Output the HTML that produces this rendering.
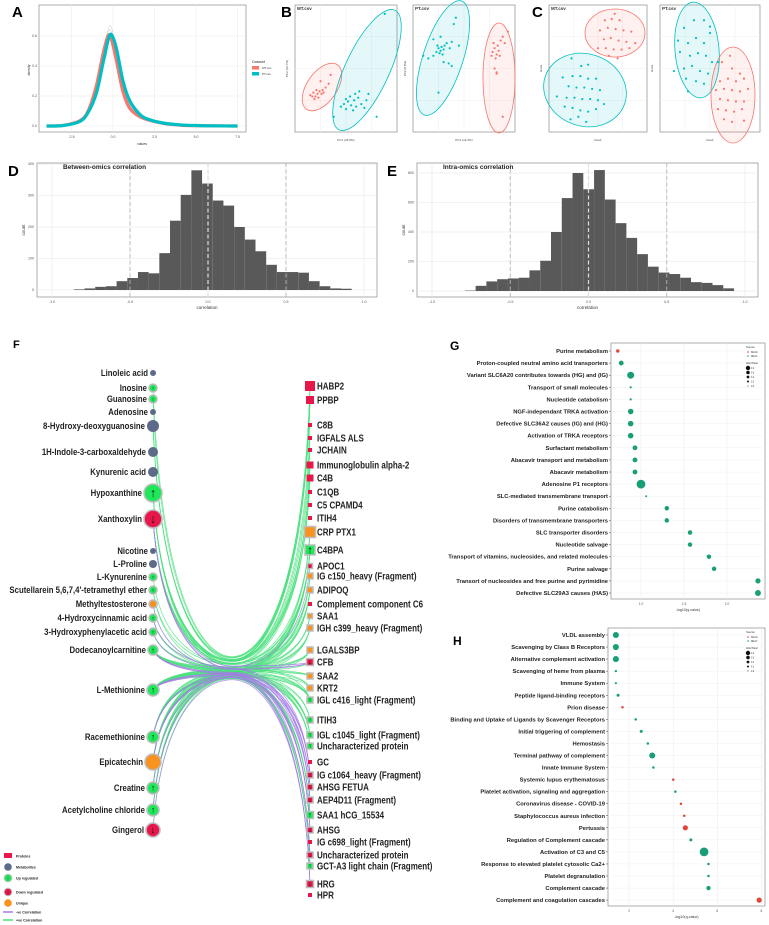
<!DOCTYPE html>
<html><head><meta charset="utf-8">
<style>
body{margin:0;background:#fff}
svg{display:block;font-family:"Liberation Sans",sans-serif}
.nar{font-family:"Liberation Sans Narrow","Liberation Sans",sans-serif;font-weight:bold}
.b{font-weight:bold}
</style></head><body>
<svg id="fig" width="769" height="925" viewBox="0 0 769 925" xmlns="http://www.w3.org/2000/svg">
<g id="pA"></g>
<g id="pB"></g>
<g id="pC"></g>
<g id="pD"></g>
<g id="pE"></g>
<g id="pF"></g>
<g id="pG"></g>
<g id="pH"></g>
</svg>
<script>
const NS='http://www.w3.org/2000/svg';
function mk(p,tag,a,txt){const e=document.createElementNS(NS,tag);for(const k in a)e.setAttribute(k,a[k]);if(txt!==undefined)e.textContent=txt;p.appendChild(e);return e;}
function $(id){return document.getElementById(id);}
const RED='#f8766d',TEAL='#00bfc4';

/* ---------- Panel A data ---------- */
const densX=[-4,-3,-2,-1.5,-1,-0.6,-0.3,-0.1,0.2,0.6,1,1.5,2,3,4,5,6,7.5];
const densMT=[0,0.004,0.035,0.1,0.27,0.48,0.6,0.58,0.44,0.23,0.12,0.07,0.045,0.018,0.006,0.002,0.001,0];
const densPT=[0,0.003,0.03,0.09,0.22,0.42,0.57,0.61,0.52,0.3,0.17,0.09,0.05,0.02,0.008,0.003,0.001,0];
const densS1=[0,0.003,0.03,0.1,0.26,0.5,0.64,0.66,0.5,0.27,0.14,0.08,0.05,0.03,0.01,0.003,0.001,0];
const densS2=[0,0.005,0.04,0.11,0.24,0.4,0.5,0.54,0.47,0.31,0.19,0.11,0.06,0.025,0.01,0.004,0.001,0];
const densS3=[0,0.002,0.025,0.08,0.23,0.46,0.62,0.63,0.48,0.26,0.13,0.08,0.05,0.02,0.012,0.003,0.001,0];
const aXTicks=[-2.5,0,2.5,5,7.5];
const aYTicks=[0,0.2,0.4,0.6];

/* ---------- Panel B/C data (score units 0-100) ---------- */
const bMTred=[[15,29],[18,31],[20,28],[22,30],[24,32],[26,30],[28,31],[23,27],[19,26],[27,33],[30,35],[25,40],[21,33],[33,38],[17,28],[35,45]];
const bMTteal=[[45,20],[48,22],[50,18],[52,24],[55,21],[58,25],[60,20],[62,27],[57,17],[65,22],[68,19],[70,25],[54,28],[59,30],[63,32],[50,26],[72,30],[38,12],[80,12],[88,93]];
const bPTteal=[[20,60],[23,63],[25,66],[27,64],[28,67],[30,65],[26,62],[29,61],[31,68],[24,68],[33,70],[36,66],[38,71],[15,58],[10,60],[30,55],[35,54],[38,52],[27,75],[40,85],[42,90],[20,73],[45,68],[25,31]];
const bPTred=[[78,63],[80,66],[82,61],[84,64],[83,68],[79,70],[86,72],[88,75],[77,60],[81,58],[85,60],[90,70],[80,50],[82,47],[93,79],[88,12],[82,46]];
const cMTred=[[57,88],[64,89],[72,88],[52,80],[60,82],[68,81],[76,80],[84,79],[56,73],[63,74],[71,72],[79,71],[50,66],[58,66],[66,65],[74,65],[82,66],[61,60],[70,58],[88,70],[67,93]];
const cMTteal=[[23,58],[33,52],[40,53],[14,43],[24,44],[32,44],[40,42],[48,42],[20,36],[28,35],[36,35],[44,34],[52,33],[8,28],[18,27],[26,27],[34,26],[42,26],[50,25],[16,20],[24,19],[32,17],[40,16],[48,18],[56,22],[30,12],[22,10],[38,8]];
const cPTteal=[[18,72],[24,82],[34,88],[44,88],[50,83],[20,63],[28,70],[36,74],[44,70],[30,60],[38,62],[46,60],[52,55],[24,50],[32,52],[40,48],[48,46],[58,55],[14,48],[26,42],[36,40],[44,38],[28,32],[50,78]];
const cPTred=[[62,55],[72,50],[80,46],[60,40],[68,42],[76,40],[84,42],[56,33],[64,34],[72,33],[80,32],[88,34],[60,26],[68,25],[76,24],[84,24],[58,18],[66,17],[74,16],[82,18],[64,10],[72,8],[84,9],[70,60]];

/* ---------- Panel D/E data ---------- */
const dStart=-0.86, dWidth=0.0685;
const dCounts=[2,5,10,12,28,38,57,53,117,220,302,380,338,284,268,200,160,123,80,57,57,55,28,12,5,4];
const eStart=-0.79, eWidth=0.0688;
const eCounts=[3,35,65,80,85,90,140,205,400,630,800,690,820,620,460,360,250,165,125,115,90,60,55,40,18];
const histXTicks=[-1,-0.5,0,0.5,1];
const dYTicks=[0,100,200,300,400];
const eYTicks=[0,200,400,600,800];

/* ---------- Panel G data ---------- */
const gTerms=["Purine metabolism","Proton-coupled neutral amino acid transporters","Variant SLC6A20 contributes towards (HG) and (IG)","Transport of small molecules","Nucleotide catabolism","NGF-independant TRKA activation","Defective SLC36A2 causes (IG) and (HG)","Activation of TRKA receptors","Surfactant metabolism","Abacavir transport and metabolism","Abacavir metabolism","Adenosine P1 receptors","SLC-mediated transmembrane transport","Purine catabolism","Disorders of transmembrane transporters","SLC transporter disorders","Nucleotide salvage","Transport of vitamins, nucleosides, and related molecules","Purine salvage","Transort of nucleosides and free purine and pyrimidine","Defective SLC29A3 causes (HAS)"];
const gVals=[0.73,0.77,0.88,0.88,0.88,0.88,0.88,0.88,0.93,0.93,0.93,1.0,1.06,1.3,1.3,1.57,1.57,1.79,1.85,2.36,2.36];
const gRatio=[0.25,0.45,0.75,0.08,0.08,0.55,0.55,0.55,0.45,0.45,0.45,1.0,0.05,0.4,0.4,0.4,0.4,0.4,0.4,0.5,0.6];
const gSource=["KEGG","REAC","REAC","REAC","REAC","REAC","REAC","REAC","REAC","REAC","REAC","REAC","REAC","REAC","REAC","REAC","REAC","REAC","REAC","REAC","REAC"];
const gXTicks=[1.0,1.5,2.0];

/* ---------- Panel H data ---------- */
const hTerms=["VLDL assembly","Scavenging by Class B Receptors","Alternative complement activation","Scavenging of heme from plasma","Immune System","Peptide ligand-binding receptors","Prion disease","Binding and Uptake of Ligands by Scavenger Receptors","Initial triggering of complement","Hemostasis","Terminal pathway of complement","Innate Immune System","Systemic lupus erythematosus","Platelet activation, signaling and aggregation","Coronavirus disease - COVID-19","Staphylococcus aureus infection","Pertussis","Regulation of Complement cascade","Activation of C3 and C5","Response to elevated platelet cytosolic Ca2+","Platelet degranulation","Complement cascade","Complement and coagulation cascades"];
const hVals=[1.4,1.4,1.4,1.4,1.4,1.5,1.7,2.3,2.55,2.85,3.05,3.1,4.0,4.1,4.35,4.5,4.55,4.8,5.4,5.6,5.6,5.6,7.9];
const hRatio=[0.25,0.25,0.25,0.04,0.03,0.08,0.05,0.05,0.08,0.05,0.25,0.05,0.05,0.05,0.05,0.05,0.2,0.08,0.4,0.05,0.05,0.15,0.2];
const hSource=["REAC","REAC","REAC","REAC","REAC","REAC","KEGG","REAC","REAC","REAC","REAC","REAC","KEGG","REAC","KEGG","KEGG","KEGG","REAC","REAC","REAC","REAC","REAC","KEGG"];
const hXTicks=[2,4,6,8];

/* ---------- Panel F network ---------- */
const leftNodes=[["Linoleic acid",373,"m",3],["Inosine",388,"u",4],["Guanosine",399,"u",4],["Adenosine",412,"m",3],["8-Hydroxy-deoxyguanosine",426,"m",6],["1H-Indole-3-carboxaldehyde",452,"m",5],["Kynurenic acid",472,"m",5],["Hypoxanthine",493,"u",9],["Xanthoxylin",519,"d",9],["Nicotine",551,"m",3],["L-Proline",564,"m",4],["L-Kynurenine",577,"u",4],["Scutellarein 5,6,7,4'-tetramethyl ether",590,"u",4],["Methyltestosterone",604,"q",4],["4-Hydroxycinnamic acid",618,"u",4],["3-Hydroxyphenylacetic acid",632,"u",4],["Dodecanoylcarnitine",650,"u",5],["L-Methionine",690,"u",6],["Racemethionine",737,"u",6],["Epicatechin",762,"q",8],["Creatine",788,"u",6],["Acetylcholine chloride",810,"u",6],["Gingerol",830,"d",7]];
const rightNodes=[["HABP2",386,"p",10],["PPBP",400,"p",8],["C8B",425,"p",4],["IGFALS ALS",438,"p",4],["JCHAIN",450,"p",4],["Immunoglobulin alpha-2",465,"p",7],["C4B",478,"p",7],["C1QB",492,"p",4],["C5 CPAMD4",505,"p",4],["ITIH4",518,"p",4],["CRP PTX1",532,"q",11],["C4BPA",550,"u",10],["APOC1",566,"d",5],["IG c150_heavy (Fragment)",576,"q",6],["ADIPOQ",590,"q",6],["Complement component C6",604,"p",4],["SAA1",616,"q",5],["IGH c399_heavy (Fragment)",628,"q",6],["LGALS3BP",650,"q",6],["CFB",662,"d",7],["SAA2",676,"q",6],["KRT2",688,"q",6],["IGL c416_light (Fragment)",700,"u",6],["ITIH3",720,"u",6],["IGL c1045_light (Fragment)",735,"u",6],["Uncharacterized protein",746,"u",6],["GC",762,"p",4],["IG c1064_heavy (Fragment)",775,"d",6],["AHSG FETUA",787,"d",6],["AEP4D11 (Fragment)",800,"d",6],["SAA1 hCG_15534",815,"u",7],["AHSG",830,"d",6],["IG c698_light (Fragment)",842,"p",4],["Uncharacterized protein",855,"d",6],["GCT-A3 light chain (Fragment)",866,"u",6],["HRG",884,"d",7],["HPR",895,"p",4]];
const posEdges=[[4,0],[4,1],[4,5],[7,0],[7,1],[7,5],[7,6],[7,11],[7,13],[7,22],[8,0],[8,1],[8,10],[8,11],[8,14],[1,0],[2,1],[11,5],[12,6],[14,11],[15,13],[16,10],[16,11],[16,14],[16,16],[16,17],[16,18],[16,20],[16,21],[16,22],[17,11],[17,13],[17,14],[17,16],[17,17],[17,18],[17,19],[17,20],[17,22],[17,23],[17,24],[18,11],[18,14],[18,17],[18,22],[18,24],[18,25],[18,30],[19,10],[19,11],[19,13],[19,18],[19,21],[19,23],[19,25],[19,30],[19,34],[20,11],[20,14],[20,22],[20,24],[20,30],[20,34],[21,11],[21,17],[21,22],[21,25],[21,30],[15,16],[14,18],[13,20],[12,21],[8,2],[7,3],[7,4],[4,6],[16,24],[17,25],[17,30],[17,34],[18,34],[21,34],[22,30]];
const negEdges=[[8,19],[8,27],[8,29],[13,19],[16,27],[16,28],[16,31],[16,33],[17,27],[17,29],[17,31],[17,35],[19,27],[19,28],[19,33],[19,35],[20,31],[21,29],[22,35],[15,19],[14,12],[18,31],[18,28]];

/* ================= RENDER ================= */
function axisBox(p,x,y,w,h){const r=mk(p,'rect',{x:x,y:y,width:w,height:h,fill:'#fff',stroke:'#999','stroke-width':0.8});return r;}
function smooth(pts){let d='M'+pts[0][0]+' '+pts[0][1];for(let i=0;i<pts.length-1;i++){const p0=pts[Math.max(0,i-1)],p1=pts[i],p2=pts[i+1],p3=pts[Math.min(pts.length-1,i+2)];const c1=[p1[0]+(p2[0]-p0[0])/6,p1[1]+(p2[1]-p0[1])/6],c2=[p2[0]-(p3[0]-p1[0])/6,p2[1]-(p3[1]-p1[1])/6];d+=' C'+c1[0].toFixed(1)+' '+c1[1].toFixed(1)+' '+c2[0].toFixed(1)+' '+c2[1].toFixed(1)+' '+p2[0].toFixed(1)+' '+p2[1].toFixed(1);}return d;}

/* Panel A */
(function(){const p=$('pA');
let t=mk(p,'text',{x:12,y:17,'font-size':15,'font-weight':'bold'},'A');

const ax=v=>113+v*16.6, ay=d=>126-d*150;
const b=axisBox(p,39,5,207,127);
aXTicks.forEach(v=>{mk(p,'line',{x1:ax(v),x2:ax(v),y1:5,y2:132,stroke:'#ebebeb','stroke-width':0.6});let l=mk(p,'text',{x:ax(v),y:138,'font-size':3.5,'text-anchor':'middle',fill:'#555'},v.toFixed(1));});
aYTicks.forEach(v=>{mk(p,'line',{x1:39,x2:246,y1:ay(v),y2:ay(v),stroke:'#ebebeb','stroke-width':0.6});let l=mk(p,'text',{x:37,y:ay(v)+1,'font-size':3.5,'text-anchor':'end',fill:'#555'},v.toFixed(1));});
[densS1,densS2,densS3].forEach(s=>{const e=mk(p,'path',{d:smooth(densX.map((x,i)=>[ax(x),ay(s[i])])),fill:'none',stroke:'#aaa','stroke-width':0.5,opacity:0.6});});
let m=mk(p,'path',{d:smooth(densX.map((x,i)=>[ax(x),ay(densMT[i])])),fill:'none',stroke:RED,'stroke-width':3.2,'stroke-linejoin':'round'});
let q=mk(p,'path',{d:smooth(densX.map((x,i)=>[ax(x),ay(densPT[i])])),fill:'none',stroke:TEAL,'stroke-width':3.2,'stroke-linejoin':'round'});
let xt=mk(p,'text',{x:142,y:145,'font-size':3.5,'text-anchor':'middle',fill:'#333'},'values');
let yt=mk(p,'text',{x:30,y:70,'font-size':3.5,'text-anchor':'middle',fill:'#333',transform:'rotate(-90 30 70)'},'density');
let lg=mk(p,'g',{});
mk(lg,'text',{x:252,y:63,'font-size':3.8,fill:'#333'},'Dataset');
mk(lg,'rect',{x:252,y:66,width:7,height:3.5,fill:RED});mk(lg,'text',{x:262,y:69,'font-size':3,fill:'#333'},'MT.csv');
mk(lg,'rect',{x:252,y:72,width:7,height:3.5,fill:TEAL});mk(lg,'text',{x:262,y:75,'font-size':3,fill:'#333'},'PT.csv');
})();

/* Panels B, C */
function scatter(p,box,title,groups,ells,xlab,ylab){
 axisBox(p,box.x,box.y,box.w,box.h);
 for(let i=1;i<4;i++){mk(p,'line',{x1:box.x+box.w*i/4,x2:box.x+box.w*i/4,y1:box.y,y2:box.y+box.h,stroke:'#eee','stroke-width':0.5});mk(p,'line',{x1:box.x,x2:box.x+box.w,y1:box.y+box.h*i/4,y2:box.y+box.h*i/4,stroke:'#eee','stroke-width':0.5});}
 ells.forEach(e=>{const el=mk(p,'ellipse',{cx:e[0],cy:e[1],rx:e[2],ry:e[3],transform:'rotate('+e[4]+' '+e[0]+' '+e[1]+')',fill:e[5],'fill-opacity':0.1,stroke:e[5],'stroke-width':0.8});});
 groups.forEach(g=>{g[0].forEach(v=>{const c=mk(p,'circle',{cx:box.x+v[0]/100*box.w,cy:box.y+box.h-v[1]/100*box.h,r:1.1,fill:g[1]});});});
 let t=mk(p,'text',{x:box.x+2,y:box.y+5,'font-size':4.5,'font-weight':'bold',fill:'#333'},title);
 mk(p,'text',{x:box.x+box.w/2,y:box.y+box.h+9,'font-size':3,'text-anchor':'middle',fill:'#444'},xlab);
 const yx=box.x-7,yy=box.y+box.h/2;mk(p,'text',{x:yx,y:yy,'font-size':3,'text-anchor':'middle',fill:'#444',transform:'rotate(-90 '+yx+' '+yy+')'},ylab);
}
(function(){const p=$('pB');let t=mk(p,'text',{x:281,y:17,'font-size':15,'font-weight':'bold'},'B');
scatter(p,{x:295,y:5,w:102,h:127},'MT.csv',[[bMTred,RED],[bMTteal,TEAL]],[[322,87,15,27,35,RED],[367,70,22,66,25,TEAL]],'PC1 (26.5%)','PC2 (16.7%)');
scatter(p,{x:413,y:5,w:102,h:127},'PT.csv',[[bPTteal,TEAL],[bPTred,RED]],[[443,58,20,60,18,TEAL],[499,78,16,55,0,RED]],'PC1 (12.2%)','PC2 (8.8%)');})();
(function(){const p=$('pC');let t=mk(p,'text',{x:532,y:17,'font-size':15,'font-weight':'bold'},'C');
scatter(p,{x:549,y:5,w:98,h:127},'MT.csv',[[cMTred,RED],[cMTteal,TEAL]],[[615,33,30,24,0,RED],[585,90,42,36,20,TEAL]],'tsne1','tsne2');
scatter(p,{x:660,y:5,w:100,h:127},'PT.csv',[[cPTteal,TEAL],[cPTred,RED]],[[697,50,22,48,-5,TEAL],[733,95,22,48,0,RED]],'tsne1','tsne2');})();

/* Panels D, E */
function hist(p,box,x0,x1,y0,ymax,yTop,start,width,counts,yt,title,letter,lx){
 let L=mk(p,'text',{x:lx,y:box.y+13,'font-size':15,'font-weight':'bold'},letter);
 const X=v=>x0+(v+1)*(x1-x0)/2, Y=c=>y0-c*(y0-yTop)/ymax;
 axisBox(p,box.x,box.y,box.w,box.h);
 histXTicks.forEach(v=>{mk(p,'line',{x1:X(v),x2:X(v),y1:box.y,y2:box.y+box.h,stroke:'#e6e6e6','stroke-width':0.6});let l=mk(p,'text',{x:X(v),y:box.y+box.h+6,'font-size':3.6,'text-anchor':'middle',fill:'#555'},v.toFixed(1));});
 yt.forEach(v=>{mk(p,'line',{x1:box.x,x2:box.x+box.w,y1:Y(v),y2:Y(v),stroke:'#e6e6e6','stroke-width':0.6});let l=mk(p,'text',{x:box.x-3,y:Y(v)+1,'font-size':3.6,'text-anchor':'end',fill:'#555'},v);});
 counts.forEach((c,i)=>{const a=start+i*width;const r=mk(p,'rect',{x:X(a),y:Y(c),width:X(a+width)-X(a),height:y0-Y(c),fill:'#595959'});});
 [-0.5,0,0.5].forEach(v=>{const l=mk(p,'line',{x1:X(v),x2:X(v),y1:box.y,y2:box.y+box.h,stroke:v===0?'#ddd':'#b5b5b5','stroke-width':v===0?1.2:0.9,'stroke-dasharray':'4 2.5'});});
 let tt=mk(p,'text',{x:box.x+26,y:box.y+6,'font-size':6.5,'font-weight':'bold',fill:'#222'},title);
 let xa=mk(p,'text',{x:(box.x+box.x+box.w)/2,y:box.y+box.h+12,'font-size':4.5,'text-anchor':'middle',fill:'#333'},'correlation');
 const yx=box.x-12,yy=box.y+box.h/2;let ya=mk(p,'text',{x:yx,y:yy,'font-size':4.5,'text-anchor':'middle',fill:'#333',transform:'rotate(-90 '+yx+' '+yy+')'},'count');
}
hist($('pD'),{x:37,y:163,w:340,h:134},52,364,290,400,164,dStart,dWidth,dCounts,dYTicks,'Between-omics correlation','D',8);
hist($('pE'),{x:417,y:163,w:341,h:134},432,745,291,800,173,eStart,eWidth,eCounts,eYTicks,'Intra-omics correlation','E',387);

/* Panel F */
(function(){const p=$('pF');
let L=mk(p,'text',{x:13,y:348,'font-size':11,'font-weight':'bold'},'F');
const LX=153,RX=310;
const eg=mk(p,'g',{});
function edge(a,b,col){const yl=leftNodes[a][1],yr=rightNodes[b][1];const py=668+(yl-600)*0.03+(yr-640)*0.02;const px=232;
 const d='M'+LX+' '+yl+' C'+(LX+8)+' '+(yl+(py-yl)*0.75)+' '+(px-32)+' '+py+' '+px+' '+py+' C'+(px+32)+' '+py+' '+(RX-6)+' '+(yr+(py-yr)*0.75)+' '+RX+' '+yr;
 const e=mk(eg,'path',{d:d,fill:'none',stroke:col,'stroke-width':0.7,opacity:0.85});return e;}
posEdges.forEach(e=>{const el=edge(e[0],e[1],'#4be07e');});
negEdges.forEach(e=>{const el=edge(e[0],e[1],'#a57be6');});
const col={m:'#5d6a8a',u:'#1ee85a',d:'#e8174b',q:'#f7931e',p:'#e8174b'};
leftNodes.forEach(n=>{const g=mk(p,'g',{});
 const ring=n[2]!=='m';mk(g,'circle',{cx:LX,cy:n[1],r:n[3],fill:col[n[2]],stroke:ring?'#bdbdbd':'none','stroke-width':ring?1.6:0});
 if(n[2]==='u'||n[2]==='d')mk(g,'text',{x:LX,y:n[1]+n[3]*0.45,'font-size':n[3]*1.4,'text-anchor':'middle','font-weight':'bold',fill:'#111'},n[2]==='u'?'↑':'↓');
 mk(g,'text',{x:0,y:0,transform:'translate('+(LX-n[3]-2)+' '+(n[1]+3.2)+') scale(0.82 1)','font-size':9.5,'text-anchor':'end',class:'nar',fill:'#222'},n[0]);});
rightNodes.forEach(n=>{const g=mk(p,'g',{});
 const s=n[3],ring=n[2]!=='p';mk(g,'rect',{x:RX-s/2,y:n[1]-s/2,width:s,height:s,fill:col[n[2]],stroke:ring?'#bdbdbd':'none','stroke-width':ring?1.5:0});
 if(n[2]==='u'||n[2]==='d')mk(g,'text',{x:RX,y:n[1]+s*0.35,'font-size':s*1.1,'text-anchor':'middle','font-weight':'bold',fill:'#111'},n[2]==='u'?'↑':'↓');
 mk(g,'text',{x:0,y:0,transform:'translate('+(RX+7)+' '+(n[1]+3.5)+') scale(0.8 1)','font-size':10,class:'nar',fill:'#222'},n[0]);});
const lg=mk(p,'g',{});
const items=[['sq','#e8174b','Proteins',856],['c','#5d6a8a','Metabolites',867],['cu','#1ee85a','Up regulated',878],['cd','#e8174b','Down regulated',892],['c','#f7931e','Unique',903],['ln','#a57be6','-ve Correlation',912],['ln','#4be07e','+ve Correlation',920]];
items.forEach(it=>{const [k,c,t,y]=it;if(k==='sq')mk(lg,'rect',{x:4,y:y-3,width:8,height:5,fill:c});else if(k==='ln')mk(lg,'line',{x1:3,x2:13,y1:y,y2:y,stroke:c,'stroke-width':1.5});else{mk(lg,'circle',{cx:8,cy:y,r:3.8,fill:c,stroke:'#bbb','stroke-width':k==='c'?0:1});if(k!=='c')mk(lg,'text',{x:8,y:y+2,'font-size':5,'text-anchor':'middle'},k==='cu'?'↑':'↓');}
 mk(lg,'text',{x:16,y:y+1.5,'font-size':3.6,'font-weight':'bold',fill:'#222'},t);});
})();

/* Panels G, H */
function dotplot(p,letter,ly,box,terms,vals,ratios,src,xF,ticks,y0,dy,rF,lx){
 let L=mk(p,'text',{x:lx,y:ly,'font-size':12,'font-weight':'bold'},letter);
 axisBox(p,box.x,box.y,box.w,box.h);
 ticks.forEach(v=>{mk(p,'line',{x1:xF(v),x2:xF(v),y1:box.y,y2:box.y+box.h,stroke:'#ececec','stroke-width':0.6});let t=mk(p,'text',{x:xF(v),y:box.y+box.h+6,'font-size':3.2,'text-anchor':'middle',fill:'#555'},v%1===0&&letter==='G'?v.toFixed(1):String(v));});
 terms.forEach((t,i)=>{const y=y0+i*dy;mk(p,'line',{x1:box.x,x2:box.x+box.w,y1:y,y2:y,stroke:'#f0f0f0','stroke-width':0.5});mk(p,'line',{x1:box.x-2,x2:box.x,y1:y,y2:y,stroke:'#444','stroke-width':0.5});
  let l=mk(p,'text',{x:box.x-3,y:y+2,'font-size':5.8,'font-weight':'bold','text-anchor':'end',fill:'#222'},t);
  let c=mk(p,'circle',{cx:xF(vals[i]),cy:y,r:rF(ratios[i]),fill:src[i]==='KEGG'?'#e0453a':'#1a9e77'});});
 let xa=mk(p,'text',{x:box.x+box.w/2,y:box.y+box.h+12,'font-size':3.6,'text-anchor':'middle',fill:'#333'},'-log10(q-value)');
 const lg=mk(p,'g',{});
 const lx0=box.x+box.w-19,ly0=box.y+3;
 mk(lg,'text',{x:lx0,y:ly0+2,'font-size':2.8,fill:'#333'},'Source');
 mk(lg,'circle',{cx:lx0+2,cy:ly0+6,r:0.8,fill:'#e0453a'});mk(lg,'text',{x:lx0+5,y:ly0+7,'font-size':2.3,fill:'#333'},'KEGG');
 mk(lg,'circle',{cx:lx0+2,cy:ly0+10,r:0.8,fill:'#1a9e77'});mk(lg,'text',{x:lx0+5,y:ly0+11,'font-size':2.3,fill:'#333'},'REAC');
 mk(lg,'text',{x:lx0,y:ly0+18,'font-size':2.8,fill:'#333'},'Hits/Total');
 [2.2,1.8,1.4,1,0.5].forEach((r,i)=>{mk(lg,'circle',{cx:lx0+2,cy:ly0+22+i*4.5,r:r,fill:'#111'});mk(lg,'text',{x:lx0+5,y:ly0+23+i*4.5,'font-size':2.3,fill:'#333'},'0.'+(4-i));});
}
dotplot($('pG'),'G',350,{x:611,y:343,w:154,h:256},gTerms,gVals,gRatio,gSource,v=>641+(v-1)*86,gXTicks,351,12.1,r=>0.8+r*3.6,450);
dotplot($('pH'),'H',645,{x:608,y:628,w:157,h:278},hTerms,hVals,hRatio,hSource,v=>585+v*22.05,hXTicks,635,12.05,r=>0.8+r*9,453);
</script>
</body></html>
